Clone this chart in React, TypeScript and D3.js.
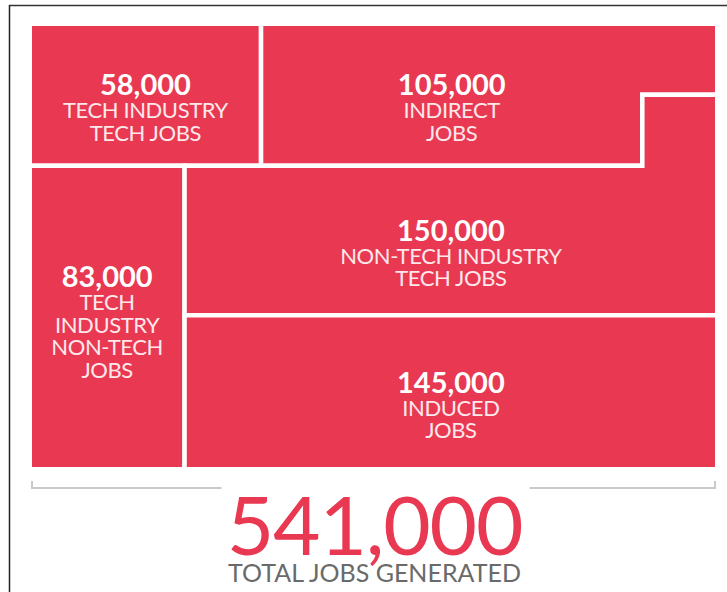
import React from "react";
import * as d3 from "d3";

// ---- data ----
const categories = ["techTech", "indirect", "techNonTech", "nonTechTech", "induced"];
const values = [58000, 105000, 83000, 150000, 145000];
const labelLines: string[][] = [
  ["TECH INDUSTRY", "TECH JOBS"],
  ["INDIRECT", "JOBS"],
  ["TECH", "INDUSTRY", "NON-TECH", "JOBS"],
  ["NON-TECH INDUSTRY", "TECH JOBS"],
  ["INDUCED", "JOBS"],
];
const totalLabel = "TOTAL JOBS GENERATED";

// ---- layout / style ----
const W = 727;
const H = 592;
const RED = "#e93851";
const GAP = 4.5;
const NOTCH_W = 0.109; // fraction of width of the step in the indirect block
const NOTCH_H = 0.5; // fraction of top row height

export default function App() {
  const total = d3.sum(values);
  const share = values.map((v) => v / total);

  // value-derived layout in unit square
  const hTop = (share[0] + share[1]) / (1 - NOTCH_W * NOTCH_H);
  const w58 = share[0] / hTop;
  const w83 = share[2] / (1 - hTop);
  const notchArea = NOTCH_W * NOTCH_H * hTop;
  const h150 = (share[3] - notchArea) / (1 - w83);
  const nTop = hTop * (1 - NOTCH_H);

  const x = d3.scaleLinear().domain([0, 1]).range([32 - GAP / 2, 715 + GAP / 2]);
  const y = d3.scaleLinear().domain([0, 1]).range([26 - GAP / 2, 467 + GAP / 2]);

  const shapes: [number, number][][] = [
    [[0, 0], [w58, 0], [w58, hTop], [0, hTop]],
    [[w58, 0], [1, 0], [1, nTop], [1 - NOTCH_W, nTop], [1 - NOTCH_W, hTop], [w58, hTop]],
    [[0, hTop], [w83, hTop], [w83, 1], [0, 1]],
    [[w83, hTop], [1 - NOTCH_W, hTop], [1 - NOTCH_W, nTop], [1, nTop], [1, hTop + h150], [w83, hTop + h150]],
    [[w83, hTop + h150], [1, hTop + h150], [1, 1], [w83, 1]],
  ];
  // label anchor boxes [x0, y0, x1, y1]
  const anchors: [number, number, number, number][] = [
    [0, 0, w58, hTop],
    [w58, 0, 1 - NOTCH_W, hTop],
    [0, hTop, w83, 1],
    [w83, hTop, 1, hTop + h150],
    [w83, hTop + h150, 1, 1],
  ];

  const line = d3.line<[number, number]>().x((d) => x(d[0])).y((d) => y(d[1]));
  const fmt = d3.format(",");

  const cx = (x(0) + x(1)) / 2;
  const bracketY = 488;

  return (
    <svg
      width={W}
      height={H}
      style={{ position: "absolute", left: 0, top: 0, background: "#fff" }}
      fontFamily="Lato, 'Open Sans', sans-serif"
    >
      {/* outer frame */}
      <line x1={9} y1={5.5} x2={W} y2={5.5} stroke="#333" strokeWidth={1.5} />
      <line x1={9.5} y1={5} x2={9.5} y2={H} stroke="#222" strokeWidth={1.5} />

      {categories.map((c, i) => {
        const [u0, v0, u1, v1] = anchors[i];
        const mx = (x(u0) + x(u1)) / 2;
        const my = (y(v0) + y(v1)) / 2;
        const lines = labelLines[i];
        const base = my - (20 + lines.length * 30.5) / 2 + 41;
        return (
          <g key={c}>
            <path d={line(shapes[i]) + "Z"} fill={RED} stroke="#fff" strokeWidth={GAP} strokeLinejoin="miter" />
            <text x={mx} y={base} textAnchor="middle" fill="#fff" fontSize={29} fontWeight={700}>
              {fmt(values[i])}
            </text>
            {lines.map((l, j) => (
              <text
                key={j}
                x={mx}
                y={base + 23 + j * 22.5}
                textAnchor="middle"
                fill="#fde8ec"
                fontSize={22}
                letterSpacing={-0.4}
              >
                {l}
              </text>
            ))}
          </g>
        );
      })}

      {/* bracket */}
      <g stroke="#c9c9c9" strokeWidth={2} fill="none">
        <path d={`M${x(0) + GAP / 2},${bracketY - 7}V${bracketY}H${cx - 152}`} />
        <path d={`M${x(1) - GAP / 2},${bracketY - 7}V${bracketY}H${cx + 156}`} />
      </g>

      <text x={cx + 1} y={555} textAnchor="middle" fill={RED} fontSize={82} letterSpacing={-1.2}>
        {fmt(total)}
      </text>
      <text x={cx + 1} y={582} textAnchor="middle" fill="#6a6a6a" fontSize={25} letterSpacing={0}>
        {totalLabel}
      </text>
    </svg>
  );
}
